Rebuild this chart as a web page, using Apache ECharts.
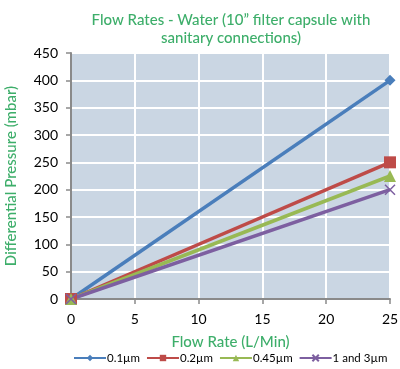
<!DOCTYPE html>
<html>
<head>
<meta charset="utf-8">
<script src="https://cdn.jsdelivr.net/npm/echarts@6/dist/echarts.min.js"></script>
<style>
html,body{margin:0;padding:0;background:#fff;}
#main{width:400px;height:369px;}
</style>
</head>
<body>
<div id="main"></div>
<script>
// 数据
var flowRates = [0, 25];
var seriesNames = ['0.1µm', '0.2µm', '0.45µm', '1 and 3µm'];
var dp01 = [0, 400];
var dp02 = [0, 250];
var dp045 = [0, 225];
var dp13 = [0, 200];

function pairs(ys) {
    return flowRates.map(function (x, i) { return [x, ys[i]]; });
}

var green = '#3DAE6A';
var axisGray = '#8A8A8A';
var fontFam = 'Lato, "Open Sans", sans-serif';

var chart = echarts.init(document.getElementById('main'));
var option = {
    animation: false,
    title: {
        text: 'Flow Rates - Water (10\u201d filter capsule with\nsanitary connections)',
        left: 226,
        top: 6,
        textAlign: 'center',
        textStyle: {
            color: green,
            fontSize: 15,
            fontWeight: 500,
            fontFamily: fontFam,
            lineHeight: 18
        }
    },
    legend: {
        bottom: 0,
        left: 73,
        width: 327,
        padding: [5, 0, 5, 0],
        itemWidth: 32,
        itemHeight: 8,
        itemGap: 6,
        textStyle: { color: '#000', fontSize: 11.5, fontFamily: fontFam, padding: [0, 0, 0, -4] },
        data: seriesNames
    },
    grid: {
        left: 71,
        right: 10,
        top: 53,
        bottom: 70,
        outerBoundsMode: 'none',
        show: true,
        backgroundColor: '#CAD6E3',
        borderWidth: 0
    },
    xAxis: {
        type: 'value',
        min: 0,
        max: 25,
        interval: 5,
        name: 'Flow Rate (L/Min)',
        nameLocation: 'middle',
        nameGap: 36,
        nameTextStyle: { color: green, fontSize: 15, fontWeight: 500, fontFamily: fontFam },
        axisLine: { show: true, onZero: false, lineStyle: { color: axisGray, width: 2 } },
        axisTick: { show: true, inside: false, length: 5, lineStyle: { color: axisGray, width: 1.5 } },
        axisLabel: { color: '#000', fontSize: 14, fontFamily: fontFam, margin: 13 },
        splitLine: { show: true, lineStyle: { color: '#fff', width: 2 } }
    },
    yAxis: {
        type: 'value',
        min: 0,
        max: 450,
        interval: 50,
        name: 'Differential Pressure (mbar)',
        nameLocation: 'middle',
        nameGap: 52,
        nameTextStyle: { color: green, fontSize: 15, fontWeight: 500, fontFamily: fontFam },
        axisLine: { show: true, lineStyle: { color: axisGray, width: 2 } },
        axisTick: { show: true, inside: false, length: 5, lineStyle: { color: axisGray, width: 1.5 } },
        axisLabel: { color: '#000', fontSize: 14, fontFamily: fontFam, margin: 13 },
        splitLine: { show: true, lineStyle: { color: '#fff', width: 2 } }
    },
    series: [
        {
            name: seriesNames[0], type: 'line', data: pairs(dp01),
            symbol: 'diamond', symbolSize: 11,
            lineStyle: { width: 3.5 }
        },
        {
            name: seriesNames[1], type: 'line', data: pairs(dp02),
            symbol: 'rect', symbolSize: 12,
            lineStyle: { width: 3.5 }
        },
        {
            name: seriesNames[2], type: 'line', data: pairs(dp045),
            symbol: 'triangle', symbolSize: 12,
            lineStyle: { width: 3.5 }
        },
        {
            name: seriesNames[3], type: 'line', data: pairs(dp13),
            symbol: 'path://M0,0L10,10M10,0L0,10', symbolSize: 10,
            itemStyle: { borderColor: '#7D5FA0', borderWidth: 1.5 },
            lineStyle: { width: 3.5 }
        }
    ],
    color: ['#4A7EBB', '#BE4B48', '#98B954', '#7D5FA0']
};
chart.setOption(option);
</script>
</body>
</html>
